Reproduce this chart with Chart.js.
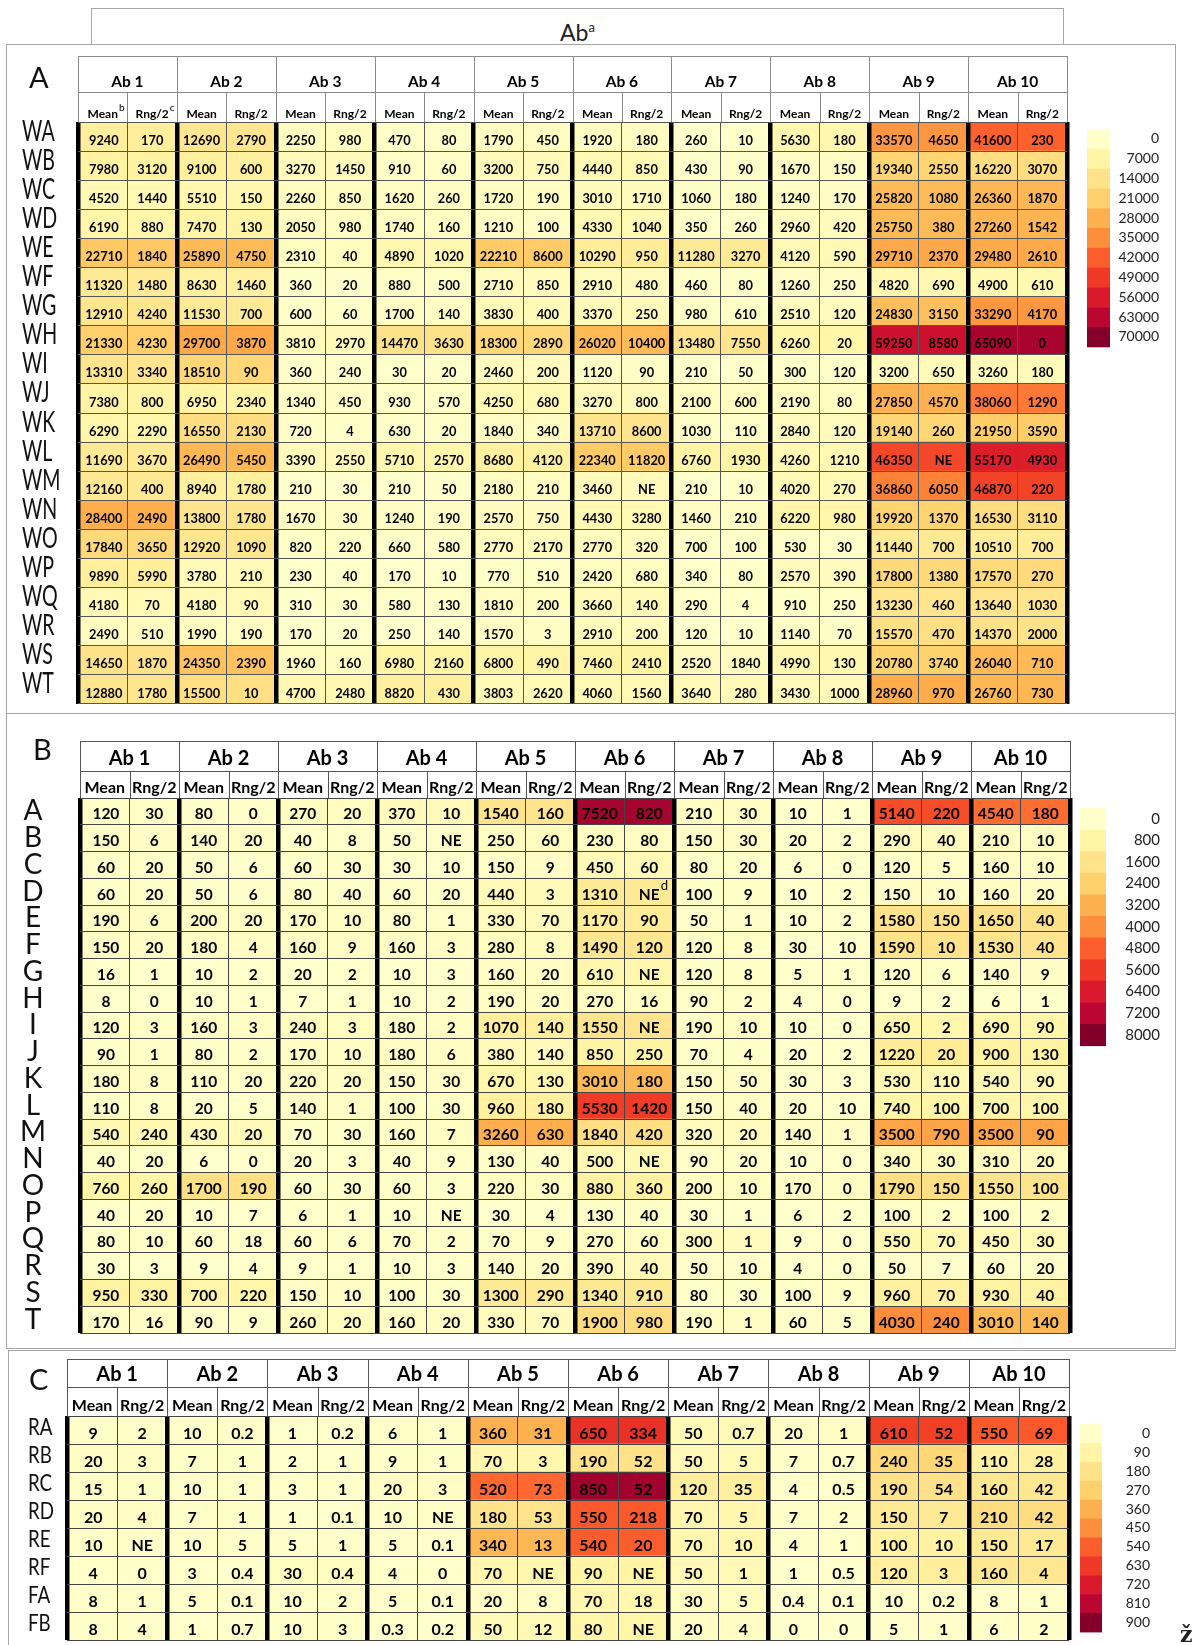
<!DOCTYPE html>
<html>
<head>
<meta charset="utf-8">
<script src="https://cdn.jsdelivr.net/npm/chart.js@4.4.1/dist/chart.umd.min.js"></script>
<style>
  body { margin: 0; width: 1192px; height: 1645px; overflow: hidden; background: #fff; position: relative; font-family: Lato, sans-serif; }
  .box { position: absolute; border: 1px solid #a6a6a6; box-sizing: border-box; }
  canvas { position: absolute; left: 0; }
  #title { left: 91px; top: 8px; width: 973px; height: 37px; text-align: center; font-size: 23px; line-height: 36px; color: #222; }
  #title sup { font-size: 13px; }
  #mark { position: absolute; left: 1180px; top: 1621px; font: bold 22px 'DejaVu Serif'; color: #222; }
</style>
</head>
<body>
<div class="box" id="title">Ab<sup>a</sup></div>
<div class="box" style="left:6px;top:44px;width:1170px;height:670px"></div>
<div class="box" style="left:6px;top:713px;width:1170px;height:636px"></div>
<div class="box" style="left:8px;top:1350px;width:1168px;height:400px;border-right:none;border-bottom:none"></div>
<canvas id="chartA" width="1192" height="670" style="top:44px"></canvas>
<canvas id="chartB" width="1192" height="634" style="top:714px"></canvas>
<canvas id="chartC" width="1192" height="297" style="top:1348px"></canvas>
<div id="mark">ž</div>
<script>
// column headers
const groups = ['Ab 1', 'Ab 2', 'Ab 3', 'Ab 4', 'Ab 5', 'Ab 6', 'Ab 7', 'Ab 8', 'Ab 9', 'Ab 10'];
const subs = ['Mean', 'Rng/2'];

// colour scale (same for all three panels)
const scaleColors = ['#FFFFCC', '#FFF5A5', '#FEE38B', '#FED16C', '#FDB14E', '#FD8F3C',
  '#FC5D2C', '#EF3825', '#DA1A2C', '#BA0631', '#82002A'];

// ---- panel A ----
const rowsA = ['WA', 'WB', 'WC', 'WD', 'WE', 'WF', 'WG', 'WH', 'WI', 'WJ',
  'WK', 'WL', 'WM', 'WN', 'WO', 'WP', 'WQ', 'WR', 'WS', 'WT'];
const meanA = [
  [9240, 12690, 2250, 470, 1790, 1920, 260, 5630, 33570, 41600],
  [7980, 9100, 3270, 910, 3200, 4440, 430, 1670, 19340, 16220],
  [4520, 5510, 2260, 1620, 1720, 3010, 1060, 1240, 25820, 26360],
  [6190, 7470, 2050, 1740, 1210, 4330, 350, 2960, 25750, 27260],
  [22710, 25890, 2310, 4890, 22210, 10290, 11280, 4120, 29710, 29480],
  [11320, 8630, 360, 880, 2710, 2910, 460, 1260, 4820, 4900],
  [12910, 11530, 600, 1700, 3830, 3370, 980, 2510, 24830, 33290],
  [21330, 29700, 3810, 14470, 18300, 26020, 13480, 6260, 59250, 65090],
  [13310, 18510, 360, 30, 2460, 1120, 210, 300, 3200, 3260],
  [7380, 6950, 1340, 930, 4250, 3270, 2100, 2190, 27850, 38060],
  [6290, 16550, 720, 630, 1840, 13710, 1030, 2840, 19140, 21950],
  [11690, 26490, 3390, 5710, 8680, 22340, 6760, 4260, 46350, 55170],
  [12160, 8940, 210, 210, 2180, 3460, 210, 4020, 36860, 46870],
  [28400, 13800, 1670, 1240, 2570, 4430, 1460, 6220, 19920, 16530],
  [17840, 12920, 820, 660, 2770, 2770, 700, 530, 11440, 10510],
  [9890, 3780, 230, 170, 770, 2420, 340, 2570, 17800, 17570],
  [4180, 4180, 310, 580, 1810, 3660, 290, 910, 13230, 13640],
  [2490, 1990, 170, 250, 1570, 2910, 120, 1140, 15570, 14370],
  [14650, 24350, 1960, 6980, 6800, 7460, 2520, 4990, 20780, 26040],
  [12880, 15500, 4700, 8820, 3803, 4060, 3640, 3430, 28960, 26760]
];
const rngA = [
  [170, 2790, 980, 80, 450, 180, 10, 180, 4650, 230],
  [3120, 600, 1450, 60, 750, 850, 90, 150, 2550, 3070],
  [1440, 150, 850, 260, 190, 1710, 180, 170, 1080, 1870],
  [880, 130, 980, 160, 100, 1040, 260, 420, 380, 1542],
  [1840, 4750, 40, 1020, 8600, 950, 3270, 590, 2370, 2610],
  [1480, 1460, 20, 500, 850, 480, 80, 250, 690, 610],
  [4240, 700, 60, 140, 400, 250, 610, 120, 3150, 4170],
  [4230, 3870, 2970, 3630, 2890, 10400, 7550, 20, 8580, 0],
  [3340, 90, 240, 20, 200, 90, 50, 120, 650, 180],
  [800, 2340, 450, 570, 680, 800, 600, 80, 4570, 1290],
  [2290, 2130, 4, 20, 340, 8600, 110, 120, 260, 3590],
  [3670, 5450, 2550, 2570, 4120, 11820, 1930, 1210, 'NE', 4930],
  [400, 1780, 30, 50, 210, 'NE', 10, 270, 6050, 220],
  [2490, 1780, 30, 190, 750, 3280, 210, 980, 1370, 3110],
  [3650, 1090, 220, 580, 2170, 320, 100, 30, 700, 700],
  [5990, 210, 40, 10, 510, 680, 80, 390, 1380, 270],
  [70, 90, 30, 130, 200, 140, 4, 250, 460, 1030],
  [510, 190, 20, 140, 3, 200, 10, 70, 470, 2000],
  [1870, 2390, 160, 2160, 490, 2410, 1840, 130, 3740, 710],
  [1780, 10, 2480, 430, 2620, 1560, 280, 1000, 970, 730]
];
const legendA = [0, 7000, 14000, 21000, 28000, 35000, 42000, 49000, 56000, 63000, 70000];
const subNotesA = ['b', 'c'];

// ---- panel B ----
const rowsB = ['A', 'B', 'C', 'D', 'E', 'F', 'G', 'H', 'I', 'J',
  'K', 'L', 'M', 'N', 'O', 'P', 'Q', 'R', 'S', 'T'];
const meanB = [
  [120, 80, 270, 370, 1540, 7520, 210, 10, 5140, 4540],
  [150, 140, 40, 50, 250, 230, 150, 20, 290, 210],
  [60, 50, 60, 30, 150, 450, 80, 6, 120, 160],
  [60, 50, 80, 60, 440, 1310, 100, 10, 150, 160],
  [190, 200, 170, 80, 330, 1170, 50, 10, 1580, 1650],
  [150, 180, 160, 160, 280, 1490, 120, 30, 1590, 1530],
  [16, 10, 20, 10, 160, 610, 120, 5, 120, 140],
  [8, 10, 7, 10, 190, 270, 90, 4, 9, 6],
  [120, 160, 240, 180, 1070, 1550, 190, 10, 650, 690],
  [90, 80, 170, 180, 380, 850, 70, 20, 1220, 900],
  [180, 110, 220, 150, 670, 3010, 150, 30, 530, 540],
  [110, 20, 140, 100, 960, 5530, 150, 20, 740, 700],
  [540, 430, 70, 160, 3260, 1840, 320, 140, 3500, 3500],
  [40, 6, 20, 40, 130, 500, 90, 10, 340, 310],
  [760, 1700, 60, 60, 220, 880, 200, 170, 1790, 1550],
  [40, 10, 6, 10, 30, 130, 30, 6, 100, 100],
  [80, 60, 60, 70, 70, 270, 300, 9, 550, 450],
  [30, 9, 9, 10, 140, 390, 50, 4, 50, 60],
  [950, 700, 150, 100, 1300, 1340, 80, 100, 960, 930],
  [170, 90, 260, 160, 330, 1900, 190, 60, 4030, 3010]
];
const rngB = [
  [30, 0, 20, 10, 160, 820, 30, 1, 220, 180],
  [6, 20, 8, 'NE', 60, 80, 30, 2, 40, 10],
  [20, 6, 30, 10, 9, 60, 20, 0, 5, 10],
  [20, 6, 40, 20, 3, 'NE', 9, 2, 10, 20],
  [6, 20, 10, 1, 70, 90, 1, 2, 150, 40],
  [20, 4, 9, 3, 8, 120, 8, 10, 10, 40],
  [1, 2, 2, 3, 20, 'NE', 8, 1, 6, 9],
  [0, 1, 1, 2, 20, 16, 2, 0, 2, 1],
  [3, 3, 3, 2, 140, 'NE', 10, 0, 2, 90],
  [1, 2, 10, 6, 140, 250, 4, 2, 20, 130],
  [8, 20, 20, 30, 130, 180, 50, 3, 110, 90],
  [8, 5, 1, 30, 180, 1420, 40, 10, 100, 100],
  [240, 20, 30, 7, 630, 420, 20, 1, 790, 90],
  [20, 0, 3, 9, 40, 'NE', 20, 0, 30, 20],
  [260, 190, 30, 3, 30, 360, 10, 0, 150, 100],
  [20, 7, 1, 'NE', 4, 40, 1, 2, 2, 2],
  [10, 18, 6, 2, 9, 60, 1, 0, 70, 30],
  [3, 4, 1, 3, 20, 40, 10, 0, 7, 20],
  [330, 220, 10, 30, 290, 910, 30, 9, 70, 40],
  [16, 9, 20, 20, 70, 980, 1, 5, 240, 140]
];
const legendB = [0, 800, 1600, 2400, 3200, 4000, 4800, 5600, 6400, 7200, 8000];
const cellNotesB = [[3, 11, 'd']];

// ---- panel C ----
const rowsC = ['RA', 'RB', 'RC', 'RD', 'RE', 'RF', 'FA', 'FB'];
const meanC = [
  [9, 10, 1, 6, 360, 650, 50, 20, 610, 550],
  [20, 7, 2, 9, 70, 190, 50, 7, 240, 110],
  [15, 10, 3, 20, 520, 850, 120, 4, 190, 160],
  [20, 7, 1, 10, 180, 550, 70, 7, 150, 210],
  [10, 10, 5, 5, 340, 540, 70, 4, 100, 150],
  [4, 3, 30, 4, 70, 90, 50, 1, 120, 160],
  [8, 5, 10, 5, 20, 70, 30, 0.4, 10, 8],
  [8, 1, 10, 0.3, 50, 80, 20, 0, 5, 6]
];
const rngC = [
  [2, 0.2, 0.2, 1, 31, 334, 0.7, 1, 52, 69],
  [3, 1, 1, 1, 3, 52, 5, 0.7, 35, 28],
  [1, 1, 1, 3, 73, 52, 35, 0.5, 54, 42],
  [4, 1, 0.1, 'NE', 53, 218, 5, 2, 7, 42],
  ['NE', 5, 1, 0.1, 13, 20, 10, 1, 10, 17],
  [0, 0.4, 0.4, 0, 'NE', 'NE', 1, 0.5, 3, 4],
  [1, 0.1, 2, 0.1, 8, 18, 5, 0.1, 0.2, 1],
  [4, 0.7, 3, 0.2, 12, 'NE', 4, 0, 1, 2]
];
const legendC = [0, 90, 180, 270, 360, 450, 540, 630, 720, 810, 900];

function hexToRgb(h) {
  return [parseInt(h.slice(1, 3), 16), parseInt(h.slice(3, 5), 16), parseInt(h.slice(5, 7), 16)];
}

function colorFor(v, ticks) {
  const step = ticks[1] - ticks[0];
  const f = Math.max(0, Math.min(v / step, ticks.length - 1));
  const i = Math.min(Math.floor(f), ticks.length - 2);
  const t = f - i;
  const a = hexToRgb(scaleColors[i]), b = hexToRgb(scaleColors[i + 1]);
  const m = a.map((x, k) => Math.round(x + (b[k] - x) * t));
  return 'rgb(' + m.join(',') + ')';
}

function drawSup(ctx, mark, x, y, size) {
  ctx.save();
  ctx.font = size + 'px Lato';
  ctx.textAlign = 'left';
  ctx.fillText(mark, x, y);
  ctx.restore();
}

function tablePlugin(def, rows, ticks) {
  return {
    id: 'table' + def.letter,
    afterDraw(chart) {
      const ctx = chart.ctx, xs = chart.scales.x, ys = chart.scales.y, a = chart.chartArea;
      const mid = a.top - def.h2, top = mid - def.h1;
      const px = v => Math.round(xs.getPixelForValue(v)) + 0.5;
      ctx.save();

      // header lines
      ctx.strokeStyle = def.head;
      ctx.lineWidth = 1;
      ctx.beginPath();
      ctx.moveTo(px(0), Math.round(top) + 0.5); ctx.lineTo(px(20), Math.round(top) + 0.5);
      ctx.moveTo(px(0), Math.round(mid) + 0.5); ctx.lineTo(px(20), Math.round(mid) + 0.5);
      for (let c = 0; c <= 20; c++) {
        ctx.moveTo(px(c), c % 2 ? mid : top);
        ctx.lineTo(px(c), a.top);
      }
      ctx.stroke();

      ctx.fillStyle = '#000';
      ctx.textAlign = 'center';
      ctx.textBaseline = 'middle';
      ctx.font = 'bold ' + def.groupSize + 'px Lato';
      groups.forEach((t, g) => ctx.fillText(t, xs.getPixelForValue(2 * g + 1), top + def.groupY));

      ctx.font = 'bold ' + def.subSize + 'px Lato';
      for (let c = 0; c < 20; c++) {
        const cx = xs.getPixelForValue(c + 0.5), cy = mid + def.subY, t = subs[c % 2];
        ctx.fillText(t, cx, cy);
        if (def.subNotes && c < 2) {
          drawSup(ctx, def.subNotes[c], cx + ctx.measureText(t).width / 2 + 1, cy - def.subSize * 0.5, def.subSize * 0.85);
        }
      }

      // cell values
      ctx.font = 'bold ' + def.cellSize + 'px Lato';
      chart.data.datasets.forEach((ds, c) => {
        chart.getDatasetMeta(c).data.forEach((bar, r) => {
          ctx.fillText(String(ds.texts[r]), (bar.x + bar.base) / 2, bar.y + def.cellDy);
        });
      });
      (def.cellNotes || []).forEach(([r, c, m]) => {
        const bar = chart.getDatasetMeta(c).data[r];
        const w = ctx.measureText(String(chart.data.datasets[c].texts[r])).width;
        drawSup(ctx, m, (bar.x + bar.base) / 2 + w / 2 + 1, bar.y + def.cellDy - def.cellSize * 0.55, def.cellSize * 0.85);
      });

      // row labels
      ctx.font = def.rowSize + 'px Lato';
      ctx.fillStyle = '#111';
      rows.forEach((t, r) => {
        ctx.save();
        ctx.translate(def.rowX, ys.getPixelForValue(r) + def.rowDy);
        ctx.scale(def.rowSx, 1);
        ctx.textAlign = def.rowAlign;
        ctx.fillText(t, 0, 0);
        ctx.restore();
      });

      // panel letter
      ctx.textAlign = 'left';
      ctx.textBaseline = 'alphabetic';
      ctx.font = '29px Lato';
      ctx.fillText(def.letter, def.letterX, def.letterY);

      // colour legend
      ctx.textAlign = 'right';
      ctx.textBaseline = 'middle';
      ctx.font = def.legSize + 'px Lato';
      ticks.forEach((v, i) => {
        ctx.fillStyle = scaleColors[i];
        ctx.fillRect(def.legX, def.legTop + i * def.legH, def.legW, def.legH + 0.5);
        ctx.fillStyle = '#222';
        ctx.fillText(String(v), def.legRight, def.legTop + (i + 0.5) * def.legH);
      });
      ctx.restore();
    }
  };
}

function makeChart(id, rows, mean, rng, ticks, def) {
  const datasets = [];
  for (let c = 0; c < 20; c++) {
    const g = Math.floor(c / 2);
    datasets.push({
      data: rows.map(() => 1),
      texts: rows.map((_, r) => (c % 2 ? rng[r][g] : mean[r][g])),
      backgroundColor: rows.map((_, r) => colorFor(mean[r][g], ticks)),
      borderWidth: 0,
      barPercentage: 1,
      categoryPercentage: 1
    });
  }
  return new Chart(document.getElementById(id), {
    type: 'bar',
    data: { labels: rows, datasets: datasets },
    options: {
      indexAxis: 'y',
      responsive: false,
      animation: false,
      devicePixelRatio: 1,
      events: [],
      layout: { padding: { top: def.top, bottom: def.bottom, right: def.right, left: 0 } },
      plugins: { legend: { display: false }, tooltip: { enabled: false } },
      scales: {
        x: {
          type: 'linear', stacked: true, min: 0, max: 20,
          ticks: { display: false, stepSize: 1 },
          border: { display: false },
          grid: {
            z: 1,
            drawTicks: false,
            color: c => (c.tick && c.tick.value % 2 ? def.thin : '#000'),
            lineWidth: c => (c.tick && c.tick.value % 2 ? 1 : 4.5)
          },
          afterFit: s => { s.height = 0; }
        },
        y: {
          stacked: true, offset: true,
          ticks: { display: false },
          border: { display: false },
          grid: { z: 1, offset: true, drawTicks: false, color: def.thin, lineWidth: 1 },
          afterFit: s => { s.width = def.left; }
        }
      }
    },
    plugins: [tablePlugin(def, rows, ticks)]
  });
}

makeChart('chartA', rowsA, meanA, rngA, legendA, {
  letter: 'A', letterX: 29, letterY: 44,
  left: 78, right: 125, top: 78, bottom: 10,
  h1: 36, h2: 30, groupY: 26, subY: 22,
  groupSize: 15.5, subSize: 12, cellSize: 12.8, cellDy: 4,
  head: '#8a8a8a', thin: '#555',
  rowX: 22, rowSize: 28, rowSx: 0.7, rowDy: -5, rowAlign: 'left',
  legX: 1087, legW: 23, legTop: 85, legH: 19.8, legRight: 1159, legSize: 14,
  subNotes: subNotesA
});

makeChart('chartB', rowsB, meanB, rngB, legendB, {
  letter: 'B', letterX: 33, letterY: 46,
  left: 80, right: 122, top: 84, bottom: 15,
  h1: 30, h2: 27, groupY: 18, subY: 17,
  groupSize: 20, subSize: 16, cellSize: 15.5, cellDy: 3,
  head: '#555', thin: '#444',
  rowX: 33, rowSize: 28, rowSx: 1, rowDy: 0, rowAlign: 'center',
  legX: 1080, legW: 26, legTop: 94, legH: 21.6, legRight: 1160, legSize: 15,
  cellNotes: cellNotesB
});

makeChart('chartC', rowsC, meanC, rngC, legendC, {
  letter: 'C', letterX: 29, letterY: 42,
  left: 67, right: 123, top: 68, bottom: 5,
  h1: 28, h2: 29, groupY: 16, subY: 19,
  groupSize: 20, subSize: 16, cellSize: 16, cellDy: 4,
  head: '#555', thin: '#444',
  rowX: 28, rowSize: 24, rowSx: 0.78, rowDy: -3, rowAlign: 'left',
  legX: 1080, legW: 22, legTop: 76, legH: 18.9, legRight: 1150, legSize: 14
});
</script>
</body>
</html>
